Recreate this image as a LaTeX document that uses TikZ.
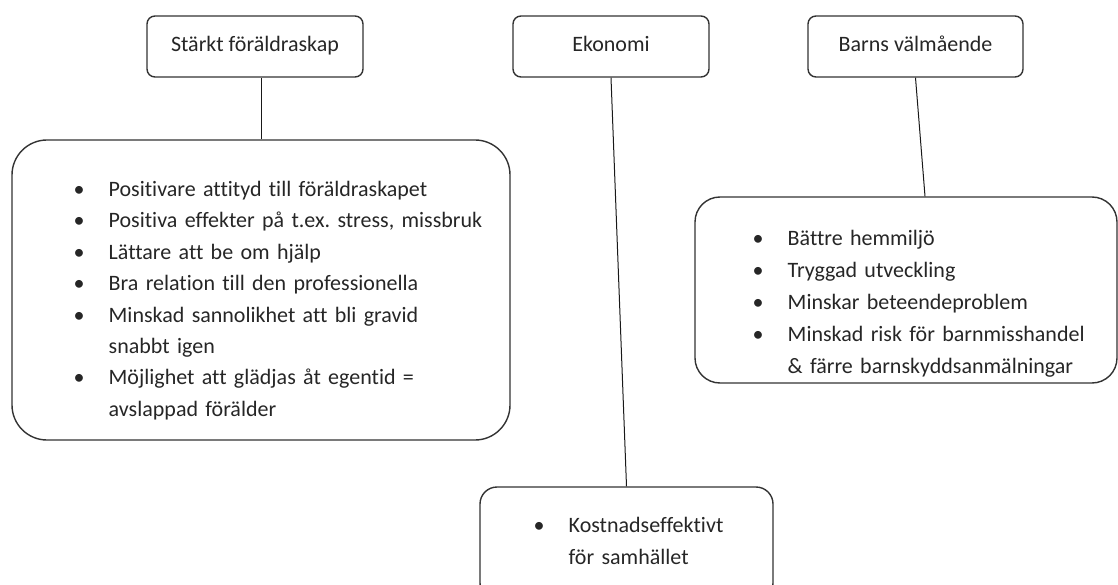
\documentclass[tikz,border=0pt]{standalone}
\usepackage{fontspec}
\setmainfont{Carlito}[Ligatures=CommonOff]
\usetikzlibrary{shapes.geometric}
\newcommand{\punkt}{\par\noindent\hangindent=35pt\hangafter=1\makebox[35pt][l]{\textbullet}\strut}
\tikzstyle{rubrik} = [rectangle, rounded corners=8pt, minimum height=61pt, text height=15pt, text depth=5pt, draw=black!80, line width=1.4pt, text=black!85, font=\fontsize{22}{26}\selectfont]
\tikzstyle{ruta} = [rectangle, draw=black!80, line width=1.4pt]
\tikzstyle{lista} = [inner sep=0pt, anchor=north west, text=black!85, font=\fontsize{22}{31.4}\selectfont\frenchspacing]
\tikzstyle{linje} = [line width=1pt, draw=black!90]

\begin{document}
\begin{tikzpicture}[x=1pt, y=-1pt]
\path[use as bounding box, clip] (0,0) rectangle (1118,585);
% rubriker
\node (foralder) [rubrik, minimum width=216pt] at (255,46.5) {Stärkt föräldraskap};
\node (ekonomi) [rubrik, minimum width=196pt] at (611,46.5) {Ekonomi};
\node (barn) [rubrik, minimum width=215pt] at (915.5,46.5) {Barns välmående};
% rutor
\node (forruta) [ruta, rounded corners=35pt, minimum width=498pt, minimum height=300pt] at (261,290) {};
\node (ekoruta) [ruta, rounded corners=17pt, minimum width=293pt, minimum height=113pt] at (626.5,543.5) {};
\node (barnruta) [ruta, rounded corners=25pt, minimum width=422pt, minimum height=186pt] at (906,290) {};
% listor
\node (forlista) [lista, text width=440pt] at (73.5,165) {%
\punkt Positivare attityd till föräldraskapet
\punkt Positiva effekter på t.ex. stress, missbruk
\punkt Lättare att be om hjälp
\punkt Bra relation till den professionella
\punkt Minskad sannolikhet att bli gravid\newline snabbt igen
\punkt Möjlighet att glädjas åt egentid =\newline avslappad förälder\par};
\node (ekolista) [lista, text width=220pt, font=\fontsize{22}{32}\selectfont] at (533.5,500.6) {%
\punkt Kostnadseffektivt\newline för samhället\par};
\node (barnlista) [lista, text width=360pt, font=\fontsize{22}{32}\selectfont] at (752.5,213.6) {%
\punkt Bättre hemmiljö
\punkt Tryggad utveckling
\punkt Minskar beteendeproblem
\punkt Minskad risk för barnmisshandel\newline \& färre barnskyddsanmälningar\par};
% linjer
\draw [linje] (forruta.north) -- (forruta.north |- foralder.south);
\draw [linje] (ekonomi.south) -- (ekoruta.north);
\draw [linje] (barn.south) -- ([xshift=19pt]barnruta.north);
\end{tikzpicture}
\end{document}
